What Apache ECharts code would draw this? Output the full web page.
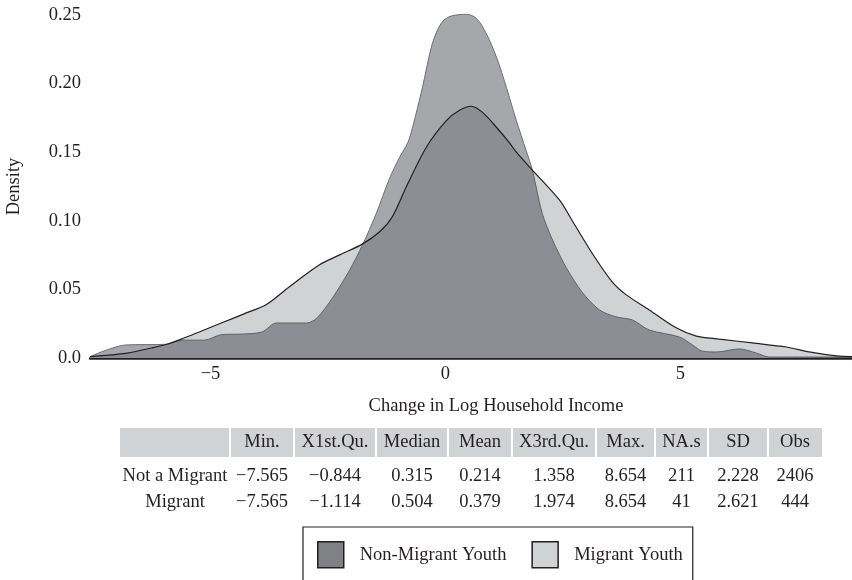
<!DOCTYPE html>
<html>
<head>
<meta charset="utf-8">
<script src="https://cdn.jsdelivr.net/npm/echarts@6/dist/echarts.min.js"></script>
<style>
  html, body { margin: 0; padding: 0; background: #ffffff; }
  #chart { width: 852px; height: 580px; }
</style>
</head>
<body>
<div id="chart"></div>
<script>
// ---- Data ----
const xNonMigrant = [-7.565, -6.8, -5.95, -5.62, -5.13, -4.77, -4.3, -3.9, -3.6, -2.96, -2.74, -2.4, -2.04, -1.77, -1.47, -1.2, -0.98, -0.8, -0.7, -0.49, -0.28, -0.09, 0.1, 0.45, 0.66, 0.87, 1.09, 1.3, 1.51, 1.72, 1.85, 2.06, 2.28, 2.57, 2.91, 3.28, 3.63, 3.98, 4.34, 4.98, 5.26, 5.47, 5.77, 6.26, 6.62, 6.89, 8.654];
const yNonMigrant = [0.001, 0.0095, 0.010, 0.013, 0.013, 0.017, 0.0175, 0.019, 0.0255, 0.0255, 0.029, 0.044, 0.064, 0.082, 0.1055, 0.13, 0.146, 0.157, 0.168, 0.197, 0.229, 0.244, 0.249, 0.2505, 0.2475, 0.2365, 0.219, 0.197, 0.173, 0.151, 0.137, 0.1055, 0.086, 0.066, 0.048, 0.035, 0.030, 0.0277, 0.0204, 0.0153, 0.0095, 0.005, 0.0044, 0.0066, 0.0036, 0.0007, 0.0007];

const xMigrant = [-7.565, -6.77, -6.26, -5.91, -5.62, -5.19, -4.77, -4.3, -3.81, -3.32, -2.68, -2.26, -1.77, -1.4, -1.13, -0.83, -0.4, 0.02, 0.3, 0.55, 0.79, 1.09, 1.36, 1.51, 1.85, 2.43, 2.7, 3.13, 3.55, 3.85, 4.34, 4.91, 5.34, 5.83, 6.53, 7.26, 7.74, 8.32, 8.654];
const yMigrant = [0.001, 0.0036, 0.0073, 0.0102, 0.0138, 0.0197, 0.0255, 0.032, 0.039, 0.052, 0.068, 0.075, 0.083, 0.092, 0.103, 0.125, 0.154, 0.173, 0.1805, 0.1835, 0.179, 0.168, 0.157, 0.150, 0.137, 0.115, 0.100, 0.076, 0.0555, 0.046, 0.035, 0.022, 0.016, 0.0138, 0.011, 0.008, 0.0044, 0.0015, 0.001];

const seriesNames = ['Non-Migrant Youth', 'Migrant Youth'];
const xTickValues = [-5, 0, 5];
const yTickValues = [0, 0.05, 0.10, 0.15, 0.20, 0.25];

const tableHeaders = ['Min.', 'X1st.Qu.', 'Median', 'Mean', 'X3rd.Qu.', 'Max.', 'NA.s', 'SD', 'Obs'];
const tableRowLabels = ['Not a Migrant', 'Migrant'];
const statsNotMigrant = [-7.565, -0.844, 0.315, 0.214, 1.358, 8.654, 211, 2.228, 2406];
const statsMigrant = [-7.565, -1.114, 0.504, 0.379, 1.974, 8.654, 41, 2.621, 444];
const statsDecimals = [3, 3, 3, 3, 3, 3, 0, 3, 0];

// ---- Styling / layout ----
const FONT = '"Liberation Serif", "DejaVu Serif", serif';
const INK = '#231f20';
const FS = 18.5;

const fmtNum = (v, d) => v.toFixed(d).replace('-', '\u2212');

const chart = echarts.init(document.getElementById('chart'), null, { renderer: 'canvas' });

// table layout (pixels)
const colEdges = [120, 230, 294, 376, 448, 512, 596, 655, 708, 768, 822];
const headerTop = 428, headerH = 29;
const rowYs = [476, 502];

const graphics = [];
graphics.push({ type: 'rect', shape: { x: colEdges[0], y: headerTop, width: colEdges[colEdges.length - 1] - colEdges[0], height: headerH }, style: { fill: '#d1d2d4' }, silent: true });
for (let i = 1; i < colEdges.length - 1; i++) {
  graphics.push({ type: 'line', shape: { x1: colEdges[i], y1: headerTop, x2: colEdges[i], y2: headerTop + headerH }, style: { stroke: '#ffffff', lineWidth: 2 }, silent: true });
}
tableHeaders.forEach((h, i) => {
  graphics.push({ type: 'text', x: (colEdges[i + 1] + colEdges[i + 2]) / 2, y: headerTop + headerH / 2,
    style: { text: h, font: FS + 'px ' + FONT, fill: INK, align: 'center', verticalAlign: 'middle' }, silent: true });
});
[statsNotMigrant, statsMigrant].forEach((row, r) => {
  graphics.push({ type: 'text', x: (colEdges[0] + colEdges[1]) / 2, y: rowYs[r],
    style: { text: tableRowLabels[r], font: FS + 'px ' + FONT, fill: INK, align: 'center', verticalAlign: 'middle' }, silent: true });
  row.forEach((v, i) => {
    graphics.push({ type: 'text', x: (colEdges[i + 1] + colEdges[i + 2]) / 2, y: rowYs[r],
      style: { text: fmtNum(v, statsDecimals[i]), font: FS + 'px ' + FONT, fill: INK, align: 'center', verticalAlign: 'middle' }, silent: true });
  });
});

const option = {
  animation: false,
  backgroundColor: '#ffffff',
  textStyle: { fontFamily: FONT },
  grid: { left: 90, right: 0, top: 15, bottom: 222, containLabel: false, outerBoundsMode: 'none' },
  xAxis: {
    type: 'value', min: -7.565, max: 8.654,
    name: 'Change in Log Household Income', nameLocation: 'middle', nameGap: 39,
    nameTextStyle: { fontFamily: FONT, fontSize: FS, color: INK, padding: [0, 0, 0, 50] },
    axisLine: { show: true, onZero: false, lineStyle: { color: INK, width: 2.5 } },
    axisTick: { show: false },
    splitLine: { show: false },
    axisLabel: { customValues: xTickValues, fontFamily: FONT, fontSize: FS, color: INK, margin: 7,
      formatter: v => String(v).replace('-', '\u2212') }
  },
  yAxis: {
    type: 'value', min: 0, max: 0.25, interval: 0.05,
    name: 'Density', nameLocation: 'middle', nameGap: 66,
    nameTextStyle: { fontFamily: FONT, fontSize: FS, color: INK },
    axisLine: { show: false }, axisTick: { show: false }, splitLine: { show: false },
    axisLabel: { customValues: yTickValues, fontFamily: FONT, fontSize: FS, color: INK, margin: 9,
      formatter: v => (v === 0 ? '0.0' : v.toFixed(2)) }
  },
  legend: {
    left: 303, top: 527, orient: 'horizontal', icon: 'rect',
    itemWidth: 26, itemHeight: 26, itemGap: 25,
    borderColor: INK, borderWidth: 1.2, borderRadius: 0,
    padding: [14, 10, 22, 14],
    textStyle: { fontFamily: FONT, fontSize: FS, color: INK, padding: [0, 0, 0, 11] },
    data: [
      { name: seriesNames[0], itemStyle: { color: '#808184', borderColor: INK, borderWidth: 1.5 } },
      { name: seriesNames[1], itemStyle: { color: '#d1d2d4', borderColor: INK, borderWidth: 1.5 } }
    ]
  },
  series: [
    {
      name: seriesNames[0], type: 'line', clip: false,
      data: xNonMigrant.map((x, i) => [x, yNonMigrant[i]]),
      smooth: 0.3, showSymbol: false, symbol: 'none',
      lineStyle: { color: '#6d6e71', width: 1 },
      areaStyle: { color: '#a6a7ab', opacity: 1 },
      itemStyle: { color: '#808184' },
      z: 2
    },
    {
      name: seriesNames[1], type: 'line', clip: false,
      data: xMigrant.map((x, i) => [x, yMigrant[i]]),
      smooth: 0.3, showSymbol: false, symbol: 'none',
      lineStyle: { color: INK, width: 1.2 },
      areaStyle: { color: 'rgba(51,56,65,0.226)', opacity: 1 },
      itemStyle: { color: '#d1d2d4' },
      z: 3
    }
  ],
  graphic: graphics
};
chart.setOption(option);
</script>
</body>
</html>
